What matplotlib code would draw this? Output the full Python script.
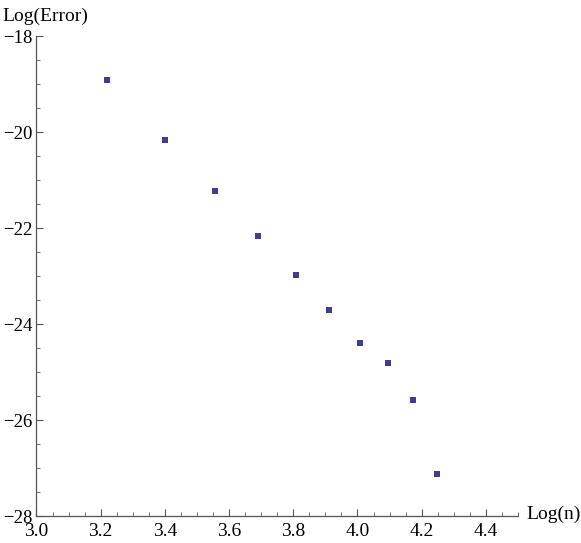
import matplotlib
matplotlib.use("Agg")
import matplotlib.pyplot as plt
from matplotlib.ticker import MultipleLocator, FuncFormatter

# data
log_n = [3.219, 3.401, 3.555, 3.689, 3.807, 3.912, 4.007, 4.094, 4.174, 4.248]
log_err = [-18.90, -20.17, -21.22, -22.17, -22.97, -23.70, -24.40, -24.81, -25.58, -27.12]

x_ticks = [3.0, 3.2, 3.4, 3.6, 3.8, 4.0, 4.2, 4.4]
y_ticks = [-28, -26, -24, -22, -20, -18]

plt.rcParams['font.family'] = ['Liberation Serif', 'DejaVu Serif']

fig = plt.figure(figsize=(5.81, 5.43), dpi=100)
ax = fig.add_axes([0.0628, 0.0492, 0.8287, 0.8839])

ax.scatter(log_n, log_err, marker='s', s=16, color='#3d3d99', linewidths=0)

ax.set_xlim(3.0, 4.5)
ax.set_ylim(-28, -18)
ax.set_xticks(x_ticks)
ax.set_yticks(y_ticks)
ax.xaxis.set_minor_locator(MultipleLocator(0.05))
ax.yaxis.set_minor_locator(MultipleLocator(0.5))
ax.xaxis.set_major_formatter(FuncFormatter(lambda v, p: f"{v:.1f}"))
ax.yaxis.set_major_formatter(FuncFormatter(lambda v, p: f"\u2212{abs(v):.0f}" if v < 0 else f"{v:.0f}"))

for s in ['top', 'right']:
    ax.spines[s].set_visible(False)
for s in ['left', 'bottom']:
    ax.spines[s].set_color('#555555')
    ax.spines[s].set_linewidth(0.9)

ax.tick_params(which='major', direction='in', length=5, width=0.8, color='#555555')
ax.tick_params(axis='x', which='major', pad=5, labelsize=14)
ax.tick_params(axis='y', which='major', pad=3, labelsize=13.5)
ax.tick_params(which='minor', direction='in', length=3, width=0.6, color='#555555')

fig.text(0.004, 0.962, 'Log(Error)', fontsize=14, ha='left', va='baseline')
ax.text(1.018, 0.005, 'Log(n)', transform=ax.transAxes, fontsize=14,
        ha='left', va='center')
ax.patch.set_visible(False)

fig.savefig('out.png', dpi=100)
